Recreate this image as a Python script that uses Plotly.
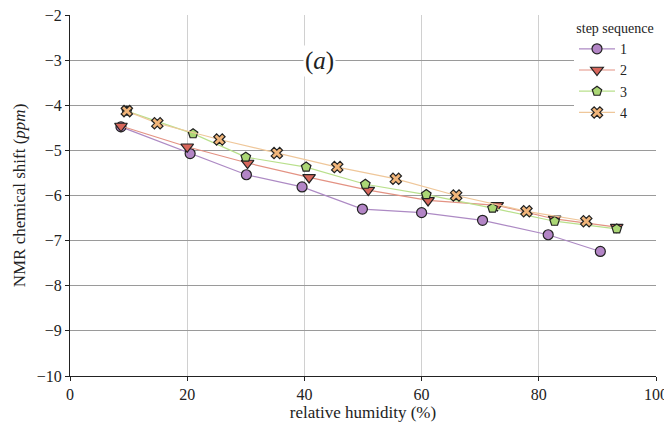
import plotly.graph_objects as go

# step sequence 1
x1 = [8.7, 20.5, 30.1, 39.6, 49.9, 60.0, 70.4, 81.6, 90.5]
y1 = [-4.48, -5.07, -5.54, -5.81, -6.30, -6.38, -6.55, -6.87, -7.24]
# step sequence 2
x2 = [8.7, 20.0, 30.3, 40.8, 50.9, 61.1, 72.9, 82.7, 93.3]
y2 = [-4.46, -4.92, -5.28, -5.60, -5.88, -6.11, -6.22, -6.52, -6.70]
# step sequence 3
x3 = [9.7, 21.0, 30.0, 40.3, 50.4, 60.8, 72.1, 82.7, 93.3]
y3 = [-4.13, -4.63, -5.15, -5.37, -5.75, -5.98, -6.28, -6.57, -6.74]
# step sequence 4
x4 = [9.7, 14.9, 25.5, 35.3, 45.6, 55.6, 65.9, 77.9, 88.1]
y4 = [-4.13, -4.40, -4.76, -5.06, -5.37, -5.63, -6.00, -6.35, -6.57]

names = ["1", "2", "3", "4"]
xtick_vals = [0, 20, 40, 60, 80, 100]
ytick_vals = [-2, -3, -4, -5, -6, -7, -8, -9, -10]

series = [
    (x1, y1, "circle", "#b385c6", "#ad8ac4", 10),
    (x2, y2, "triangle-down", "#d8675c", "#e39283", 11),
    (x3, y3, "pentagon", "#abd775", "#b9e08c", 10),
    (x4, y4, "x", "#f1b57a", "#efc79a", 10),
]

FF = "Liberation Serif"

fig = go.Figure()
for name, (xs, ys, sym, fill, lc, sz) in zip(names, series):
    fig.add_trace(go.Scatter(
        x=xs, y=ys, name=name, mode="lines+markers",
        line=dict(color=lc, width=1.2),
        marker=dict(symbol=sym, size=sz, color=fill,
                    line=dict(color="#222222", width=1.2)),
    ))

fig.add_annotation(
    x=42.5, y=-3.03, text="(<i>a</i>)", showarrow=False,
    font=dict(family=FF, size=25, color="#222"),
    bgcolor="white", borderpad=1,
)

# page body adds an 8px offset; margins compensate so the plot area sits near 70..656 x 15..376
fig.update_layout(
    width=672, height=429,
    margin=dict(l=62, r=24, t=7, b=61),
    paper_bgcolor="white", plot_bgcolor="white",
    font=dict(family=FF, size=16, color="#222"),
    showlegend=True,
    legend=dict(
        title=dict(text="step sequence", side="top center", font=dict(family=FF, size=14)),
        x=1.0, y=1.0, xanchor="right", yanchor="top",
        bgcolor="white", borderwidth=0,
        font=dict(family=FF, size=14), tracegroupgap=0, itemwidth=36,
    ),
    xaxis=dict(
        range=[0, 100], tickvals=xtick_vals, automargin=False,
        ticklabeloverflow="allow",
        showgrid=True, gridcolor="#d0d0d0", gridwidth=1,
        showline=True, linecolor="#222", linewidth=1.2,
        ticks="outside", ticklen=4, tickcolor="#222",
        zeroline=False,
        title=dict(text="relative humidity (%)", standoff=2, font=dict(family=FF, size=17)),
        tickfont=dict(family=FF, size=16),
    ),
    yaxis=dict(
        range=[-10, -2], tickvals=ytick_vals, automargin=False,
        ticklabeloverflow="allow",
        showgrid=True, gridcolor="#9a9a9a", gridwidth=1,
        showline=True, linecolor="#222", linewidth=1.2,
        ticks="outside", ticklen=4, tickcolor="#222",
        zeroline=False,
        title=dict(text="NMR chemical shift (<i>ppm</i>)", standoff=6, font=dict(family=FF, size=17)),
        tickfont=dict(family=FF, size=16),
    ),
)

fig.write_html("out.html")
